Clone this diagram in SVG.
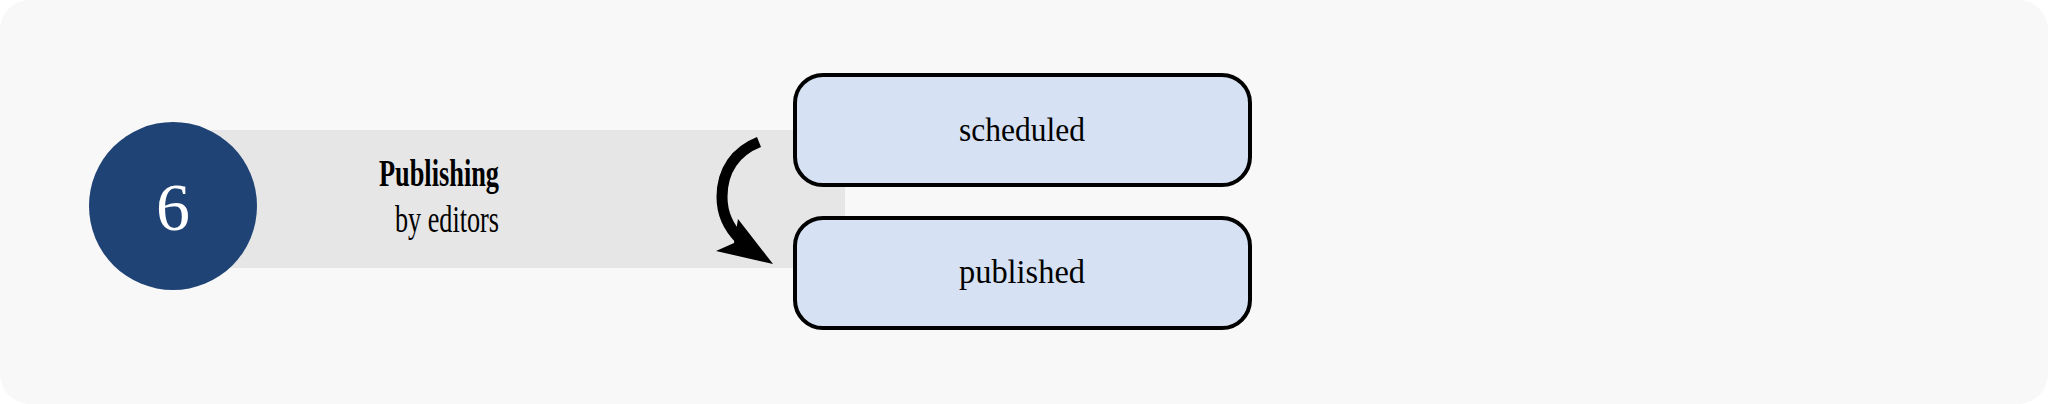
<svg xmlns="http://www.w3.org/2000/svg" width="2048" height="404" viewBox="0 0 2048 404">
<style>
.box{fill:#d6e2f3;stroke:#000;stroke-width:4}
.lbl{font-family:"Liberation Serif",serif;font-size:34px;text-anchor:middle}
</style>
<rect x="0" y="0" width="2048" height="404" rx="30" fill="#f8f8f8"/>
<rect x="170" y="130" width="675" height="138" fill="#e6e6e6"/>
<g id="step">
<circle cx="173" cy="206" r="84" fill="#204376"/>
<text x="173" y="230" font-family="Liberation Serif,serif" font-size="68" fill="#fff" text-anchor="middle">6</text>
<text x="379" y="186" font-family="Liberation Serif,serif" font-size="37" font-weight="bold" textLength="120" lengthAdjust="spacingAndGlyphs">Publishing</text>
<text x="395" y="232" font-family="Liberation Serif,serif" font-size="37" textLength="104" lengthAdjust="spacingAndGlyphs">by editors</text>
</g>
<g id="scheduled"><rect class="box" x="795" y="75" width="455" height="110" rx="28"/><text class="lbl" x="1022" y="141" textLength="126" lengthAdjust="spacingAndGlyphs">scheduled</text></g>
<g id="published"><rect class="box" x="795" y="218" width="455" height="110" rx="28"/><text class="lbl" x="1022" y="283" textLength="126" lengthAdjust="spacingAndGlyphs">published</text></g>
<g id="connectors">
<path d="M759,142 C736,151 722,170 722,197 C722,216 730,229 740,239" fill="none" stroke="#000" stroke-width="11"/>
<polygon points="738,219 773,264 716,251 734,243" fill="#000"/>
</g>
</svg>
